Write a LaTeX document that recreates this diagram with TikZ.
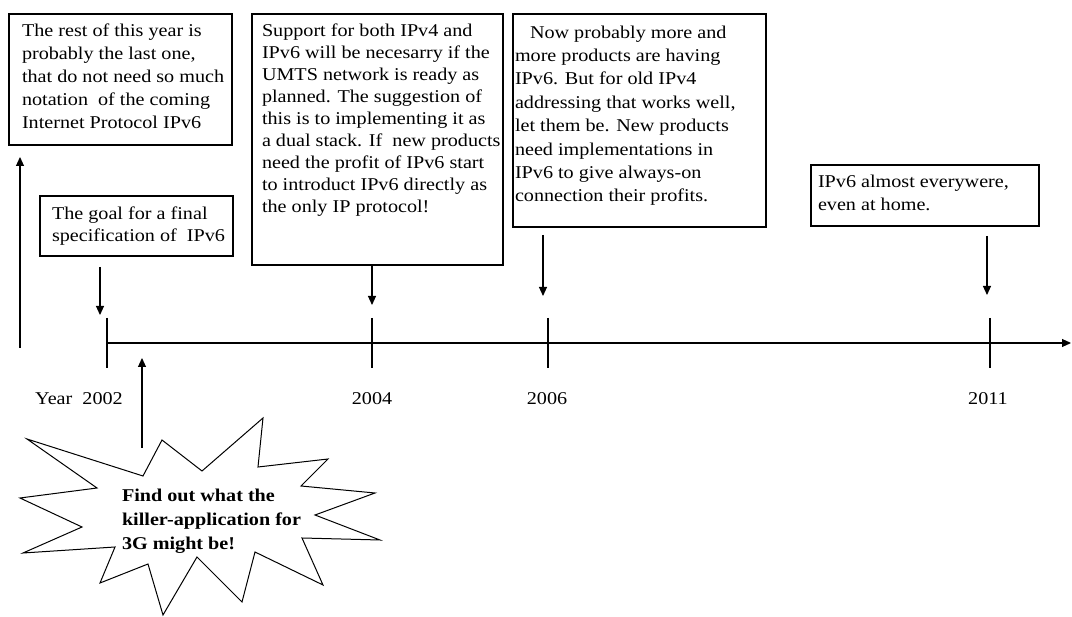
\documentclass[tikz,border=0pt]{standalone}
\usepackage{fontspec}
\setmainfont{Liberation Serif}[FakeStretch=1.12]
\usetikzlibrary{arrows.meta,calc}

\begin{document}
\begin{tikzpicture}[x=1pt,y=-1pt,
  every node/.style={inner sep=0pt, outer sep=0pt},
  note/.style={draw, line width=1.2pt, rectangle, anchor=north west},
  % multi-line texts are placed by the baseline of their last line
  txt/.style={anchor=base west, align=left, font=\fontsize{18}{22}\selectfont},
  lbl/.style={anchor=base, font=\fontsize{18}{22}\selectfont},
  arr/.style={line width=1.1pt, -{Triangle[length=9pt,width=8pt]}},
  axis/.style={line width=1.1pt},
  burst/.style={line width=1pt, line join=miter},
]
\useasboundingbox (0,0) rectangle (1072,617);

% note boxes
\node[note, minimum width=223pt, minimum height=131pt] (b1) at (9,14) {};
\node[note, minimum width=193pt, minimum height=60pt] (b2) at (40,196) {};
\node[note, minimum width=251pt, minimum height=251pt] (b3) at (252,14) {};
\node[note, minimum width=253pt, minimum height=213pt] (b4) at (513,14) {};
\node[note, minimum width=228pt, minimum height=61pt] (b5) at (811,165) {};

% texts inside the boxes
\node[txt, font=\fontsize{18}{23}\selectfont] (t1) at (22,129)
  {The rest of this year is\\probably the last one,\\that do not need so much\\notation\ \ of the coming\\Internet Protocol IPv6};
\node[txt] (t2) at (52,242)
  {The goal for a final\\specification of\ \ IPv6};
\node[txt] (t3) at (262,213)
  {Support for both IPv4 and\\IPv6 will be necesarry if the\\UMTS network is ready as\\planned. The suggestion of\\this is to implementing it as\\a dual stack. If\ \ new products\\need the profit of IPv6 start\\to introduct IPv6 directly as\\the only IP protocol!};
\node[txt, font=\fontsize{18}{23.4}\selectfont] (t4) at (515,202)
  {\hspace*{15pt}Now probably more and\\more products are having\\IPv6. But for old IPv4\\addressing that works well,\\let them be. New products\\need implementations in\\IPv6 to give always-on\\connection their profits.};
\node[txt, font=\fontsize{18}{23}\selectfont] (t5) at (818,211)
  {IPv6 almost everywere,\\even at home.};

% time axis
\coordinate (ax0) at (107,343);
\coordinate (ax1) at (1071,343);
\draw[arr] (ax0) -- (ax1);
\draw[axis] (107,318) -- (107,368);
\draw[axis] (372,318) -- (372,368);
\draw[axis] (548,318) -- (548,368);
\draw[axis] (990,318) -- (990,368);

\node[lbl] (y2002) at (79,405) {Year\ \ 2002};
\node[lbl] (y2004) at (372,405) {2004};
\node[lbl] (y2006) at (547,405) {2006};
\node[lbl] (y2011) at (988,405) {2011};

% arrows between notes and the axis
\coordinate (us) at (20,348);
\draw[arr, shorten >=12pt] (us) -- (b1.south -| us);
\coordinate (d02) at (100,315);
\draw[arr, shorten <=11pt] (b2.south -| d02) -- (d02);
\coordinate (d04) at (372,305);
\draw[arr] (b3.south -| d04) -- (d04);
\coordinate (d06) at (543,296);
\draw[arr, shorten <=8pt] (b4.south -| d06) -- (d06);
\coordinate (d11) at (987,295);
\draw[arr, shorten <=10pt] (b5.south -| d11) -- (d11);

% starburst
\draw[burst] (27,439) -- (143,476) -- (162,440) -- (202,471) -- (263,418)
  -- (258,467) -- (328,459) -- (301,486) -- (375,493) -- (315,515)
  -- (380,540) -- (302,538) -- (323,585) -- (255,552) -- (242,602)
  -- (197,557) -- (163,615) -- (148,564) -- (100,583) -- (115,547)
  -- (23,553) -- (82,527) -- (20,498) -- (97,488) -- cycle;
\node[txt, font=\fontsize{18}{24}\selectfont\bfseries] (kt) at (122,550)
  {Find out what the\\killer-application for\\3G might be!};
\coordinate (bs) at (142,448);
\coordinate (bt) at (142,358);
\draw[arr] (bs) -- (bt);
\end{tikzpicture}
\end{document}
